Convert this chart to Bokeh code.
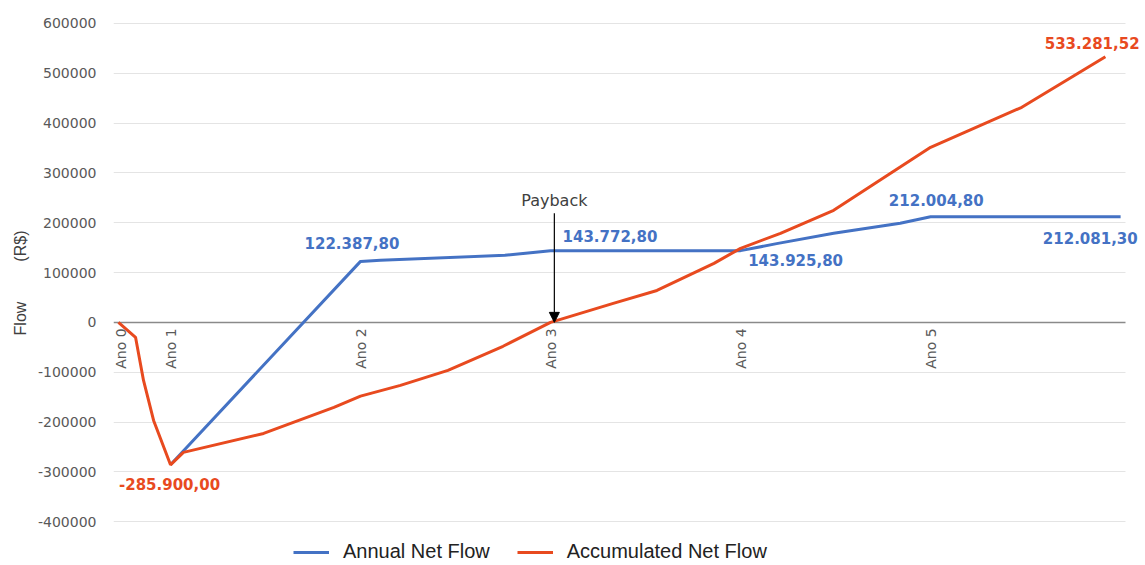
import math
from bokeh.plotting import figure
from bokeh.models import (Range1d, FixedTicker, Grid, Arrow, NormalHead, Label,
                          Legend, LegendItem, NumeralTickFormatter)
from bokeh.core.properties import value
from bokeh.embed import file_html
from bokeh.resources import INLINE

# ---------------- data ----------------
tick_pos = [0.74, 1, 2, 3, 4, 5]
tick_labels = ["Ano 0", "Ano 1", "Ano 2", "Ano 3", "Ano 4", "Ano 5"]
y_ticks = [-400000, -300000, -200000, -100000, 0, 100000, 200000, 300000, 400000, 500000, 600000]

annual_x = [1, 2, 2.105, 2.76, 3, 4, 4.19, 4.49, 4.84, 5, 6]
annual_flow = [-285900.00, 122387.80, 124500, 134500, 143772.80, 143925.80,
               158000, 178700, 198800, 212004.80, 212081.30]

acc_x = [0.726, 0.816, 0.858, 0.911, 1.0, 1.068, 1.49, 1.86, 2.0, 2.21, 2.46,
         2.75, 3.0, 3.33, 3.56, 3.86, 4.0, 4.21, 4.49, 5.0, 5.48, 5.92]
acc_flow = [0, -30000, -116500, -196800, -285900.00, -261000, -223000, -170700,
            -148000, -126500, -96400, -48000, 0, 38000, 64000, 118500, 148600,
            178700, 225000, 351400, 431700, 533281.52]

# labelled values
annual_labels_val = [122387.80, 143772.80, 143925.80, 212004.80, 212081.30]
annual_labels_x = [1.955, 3.063, 4.04, 5.03, 6.09]
annual_labels_y = [158600, 173700, 124500, 245000, 169700]
annual_labels_align = ["center", "left", "left", "center", "right"]

acc_labels_val = [-285900.00, 533281.52]
acc_labels_x = [0.995, 6.10]
acc_labels_y = [-324300, 560000]
acc_labels_align = ["center", "right"]

payback_x = 3.02
payback_text_y = 245000
payback_arrow_start = 219000

x_start, x_grid_end, x_end = 0.7, 6.026, 6.131

BLUE = "#4472C4"
ORANGE = "#E84A1F"


def fmt_br(v):
    s = f"{abs(v):,.2f}".replace(",", "X").replace(".", ",").replace("X", ".")
    return ("-" if v < 0 else "") + s


# ---------------- figure ----------------
p = figure(width=1145, height=565, output_backend="svg", toolbar_location=None,
           x_range=Range1d(x_start, x_end), y_range=Range1d(-488000, 646000),
           x_axis_location=None,
           min_border_left=113, min_border_right=0, min_border_top=0, min_border_bottom=0)
p.outline_line_color = None
p.background_fill_color = "white"
p.border_fill_color = "white"

yax = p.yaxis[0]
yax.ticker = FixedTicker(ticks=y_ticks)
yax.formatter = NumeralTickFormatter(format="0")
yax.axis_line_color = None
yax.major_tick_line_color = None
yax.minor_tick_line_color = None
yax.major_tick_out = 0
yax.major_tick_in = 0
yax.minor_tick_out = 0
yax.major_label_standoff = 17
yax.major_label_text_font = "DejaVu Sans"
yax.major_label_text_font_size = "14px"
yax.major_label_text_color = "#595959"
yax.axis_label = "Flow\u00a0\u00a0\u00a0\u00a0\u00a0\u00a0\u00a0\u00a0\u00a0(R$)"
yax.axis_label_text_font = "Liberation Sans"
yax.axis_label_text_font_size = "16px"
yax.axis_label_text_font_style = "normal"
yax.axis_label_text_color = "#404040"
yax.axis_label_standoff = 6

p.xgrid.grid_line_color = None
p.ygrid.grid_line_color = None

p.add_layout(Grid(dimension=1, ticker=FixedTicker(ticks=[t for t in y_ticks if t != 0]),
                  cross_bounds=(x_start, x_grid_end),
                  grid_line_color="#e4e4e4", grid_line_width=1))
p.add_layout(Grid(dimension=1, ticker=FixedTicker(ticks=[0]),
                  cross_bounds=(x_start, x_grid_end),
                  grid_line_color="#8a8a8a", grid_line_width=1.6))

# x category labels along the zero line
p.text(x=tick_pos, y=[0] * len(tick_pos), text=tick_labels, angle=math.pi / 2,
       text_align="right", text_baseline="middle", y_offset=6,
       text_font=value("DejaVu Sans"), text_font_size="14px", text_color="#595959")

r_annual = p.line(annual_x, annual_flow, line_color=BLUE, line_width=3)
r_acc = p.line(acc_x, acc_flow, line_color=ORANGE, line_width=3)

# data labels
for v, x, y, a in zip(annual_labels_val, annual_labels_x, annual_labels_y, annual_labels_align):
    p.add_layout(Label(x=x, y=y, text=fmt_br(v), text_align=a, text_baseline="middle",
                       text_font="DejaVu Sans", text_font_size="15px",
                       text_font_style="bold", text_color=BLUE))
for v, x, y, a in zip(acc_labels_val, acc_labels_x, acc_labels_y, acc_labels_align):
    p.add_layout(Label(x=x, y=y, text=fmt_br(v), text_align=a, text_baseline="middle",
                       text_font="DejaVu Sans", text_font_size="15px",
                       text_font_style="bold", text_color=ORANGE))

# payback marker
p.add_layout(Arrow(end=NormalHead(size=10, fill_color="black", line_color="black"),
                   x_start=payback_x, y_start=payback_arrow_start,
                   x_end=payback_x, y_end=0, line_color="black", line_width=1.2))
p.add_layout(Label(x=payback_x, y=payback_text_y, text="Payback", text_align="center",
                   text_baseline="middle", text_font="DejaVu Sans",
                   text_font_size="16px", text_color="#404040"))

legend = Legend(items=[LegendItem(label="Annual Net Flow", renderers=[r_annual]),
                       LegendItem(label="Accumulated Net Flow", renderers=[r_acc])],
                orientation="horizontal", location=(180, 2),
                glyph_width=36, glyph_height=20, label_height=20, label_standoff=14,
                spacing=27, padding=0, margin=0, border_line_color=None,
                background_fill_alpha=0, label_text_font="Liberation Sans",
                label_text_font_size="20px", label_text_color="#222222")
p.add_layout(legend)

open("out.html", "w").write(file_html(p, INLINE))
